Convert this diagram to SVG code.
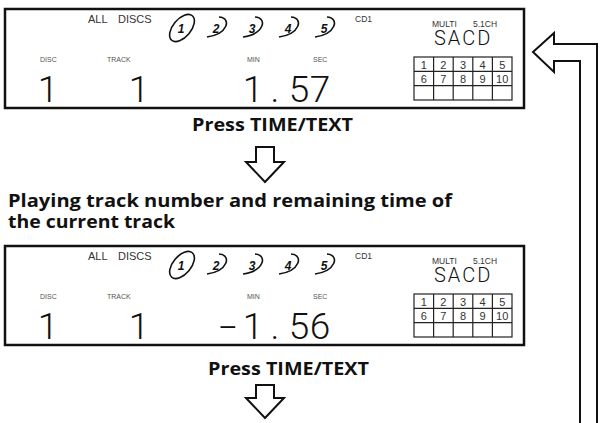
<svg xmlns="http://www.w3.org/2000/svg" width="600" height="423" viewBox="0 0 600 423">
<style>
.box{fill:#fff;stroke:#111;stroke-width:2.5}
.grid{fill:none;stroke:#222;stroke-width:1.2}
.lbl{font-family:"Liberation Sans",Arial,sans-serif;font-size:7px;fill:#555}
.sm{font-family:"Liberation Sans",Arial,sans-serif;fill:#333}
.big{font-family:"Roboto","Liberation Sans",sans-serif;font-weight:300;font-size:37px;fill:#111;text-anchor:middle}
.sacd{font-family:"Roboto","Liberation Sans",sans-serif;font-weight:300;font-size:20px;fill:#111;letter-spacing:2px}
.cell{font-family:"Liberation Sans",Arial,sans-serif;font-size:11px;fill:#333;text-anchor:middle}
.disc{font-family:"Liberation Sans",Arial,sans-serif;font-size:12px;font-style:italic;font-weight:bold;fill:#111;text-anchor:middle}
.sw{fill:none;stroke:#111;stroke-width:1.6}
.cap{font-family:"Open Sans","Noto Sans",sans-serif;font-weight:bold;fill:#111}
.arr{fill:#fff;stroke:#111;stroke-width:2;stroke-linejoin:miter}
</style>
<defs>
<g id="panel">
<rect class="box" x="5" y="9" width="519" height="99"/>
<text class="sm" x="88" y="23" font-size="11">ALL</text>
<text class="sm" x="118" y="23" font-size="11">DISCS</text>
<ellipse class="sw" cx="182" cy="28" rx="16" ry="9" transform="rotate(-50 182 28)"/>
<text class="disc" x="181" y="33">1</text>
<path class="sw" d="M219 17 C232 18 228 34 207 37"/>
<text class="disc" x="216" y="33">2</text>
<path class="sw" d="M255 17 C268 18 264 34 243 37"/>
<text class="disc" x="252" y="33">3</text>
<path class="sw" d="M291 17 C304 18 300 34 279 37"/>
<text class="disc" x="288" y="33">4</text>
<path class="sw" d="M327 17 C340 18 336 34 315 37"/>
<text class="disc" x="324" y="33">5</text>
<text class="sm" x="355" y="22" font-size="8.5">CD1</text>
<text class="sm" x="432" y="27" font-size="8.5">MULTI</text>
<text class="sm" x="473" y="27" font-size="8.5">5.1CH</text>
<text class="sacd" x="434" y="45">SACD</text>
<text class="lbl" x="40" y="62">DISC</text>
<text class="lbl" x="107" y="62">TRACK</text>
<text class="lbl" x="247" y="62">MIN</text>
<text class="lbl" x="313" y="62">SEC</text>
<g class="grid">
<rect x="414" y="57" width="98" height="43"/>
<path d="M433.6 57V100M453.2 57V100M472.8 57V100M492.4 57V100M414 71.3H512M414 85.6H512"/>
</g>
<text class="cell" x="423.8" y="69">1</text>
<text class="cell" x="443.4" y="69">2</text>
<text class="cell" x="463" y="69">3</text>
<text class="cell" x="482.6" y="69">4</text>
<text class="cell" x="502.2" y="69">5</text>
<text class="cell" x="423.8" y="83">6</text>
<text class="cell" x="443.4" y="83">7</text>
<text class="cell" x="463" y="83">8</text>
<text class="cell" x="482.6" y="83">9</text>
<text class="cell" x="502.2" y="83">10</text>
<text class="big" x="48" y="102">1</text>
<text class="big" x="139" y="102">1</text>
</g>
</defs>
<g id="display1">
<use href="#panel"/>
<text class="big" x="253" y="102">1</text>
<text class="big" x="275" y="102">.</text>
<text class="big" x="299" y="102">5</text>
<text class="big" x="320" y="102">7</text>
</g>
<g id="press1"><text class="cap" x="192" y="131" font-size="17" textLength="161" lengthAdjust="spacingAndGlyphs">Press TIME/TEXT</text></g>
<g id="caption2">
<text class="cap" x="8" y="207" font-size="17" textLength="444" lengthAdjust="spacingAndGlyphs">Playing track number and remaining time of</text>
<text class="cap" x="8" y="228" font-size="17" textLength="167" lengthAdjust="spacingAndGlyphs">the current track</text>
</g>
<g id="display2" transform="translate(0 237)">
<use href="#panel"/>
<text class="big" transform="translate(228 0) scale(1.7 1)" x="0" y="102">-</text>
<text class="big" x="253" y="102">1</text>
<text class="big" x="275" y="102">.</text>
<text class="big" x="299" y="102">5</text>
<text class="big" x="320" y="102">6</text>
</g>
<g id="press2"><text class="cap" x="208" y="375" font-size="17" textLength="161" lengthAdjust="spacingAndGlyphs">Press TIME/TEXT</text></g>
<g id="connectors">
<path class="arr" d="M256 147H274V162H284L265 182L246 162H256Z"/>
<path class="arr" d="M256 385H274V398H284L265 418L246 398H256Z"/>
<path class="arr" d="M533 52L554 33V44H597V424H580V61H554V72Z"/>
</g>
</svg>
